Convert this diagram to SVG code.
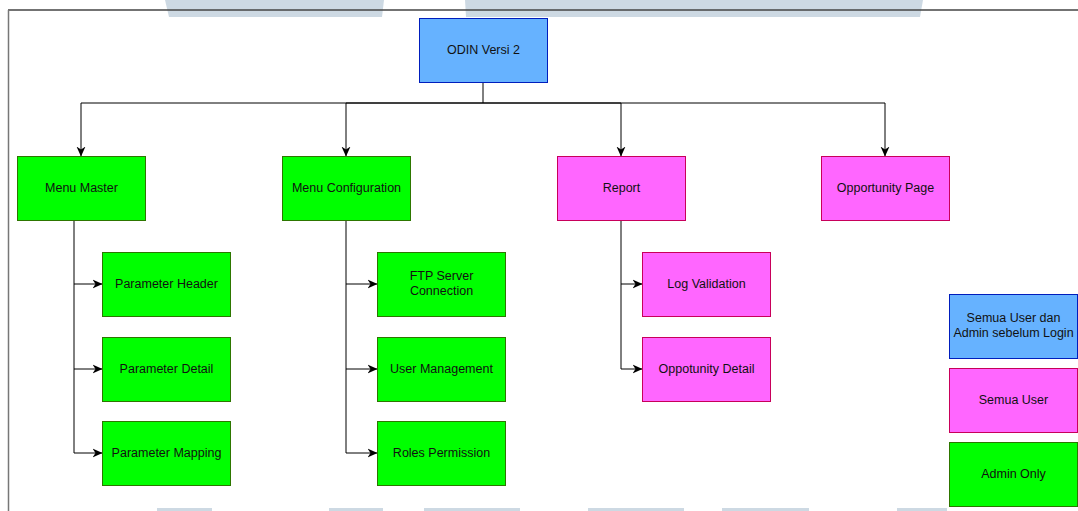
<svg xmlns="http://www.w3.org/2000/svg" width="1078" height="511" viewBox="0 0 1078 511">
<defs>
<style>
.t{font-family:"Liberation Sans",Arial,sans-serif;font-size:12.5px;fill:#111;text-anchor:middle;dominant-baseline:central}
.g{fill:#00ff00;stroke:#2d7600;stroke-width:1}
.p{fill:#ff66ff;stroke:#c8005a;stroke-width:1}
.b{fill:#66b2ff;stroke:#001dbc;stroke-width:1}
.c{fill:none;stroke:#000;stroke-width:1;marker-end:url(#ah)}
.wm{fill:#cdd9e3}
</style>
<marker id="ah" viewBox="0 0 10 10" refX="9.5" refY="5" markerWidth="10" markerHeight="10" markerUnits="userSpaceOnUse" orient="auto">
<path d="M0,0.5 L10,5 L0,9.5 L3,5 Z" fill="#000"/>
</marker>
</defs>
<rect width="1078" height="511" fill="#fff"/>
<g id="watermark">
<polygon class="wm" points="165,0 384,0 382,17 169,17"/>
<polygon class="wm" points="465,0 923,0 920,17 466,17"/>
<rect class="wm" x="157" y="508" width="55" height="3"/>
<rect class="wm" x="329" y="508" width="54" height="3"/>
<rect class="wm" x="424" y="508" width="96" height="3"/>
<rect class="wm" x="588" y="508" width="96" height="3"/>
<rect class="wm" x="722" y="508" width="87" height="3"/>
<rect class="wm" x="897" y="508" width="50" height="3"/>
</g>
<g id="frame">
<line x1="8" y1="10" x2="1078" y2="10" stroke="#444" stroke-width="1.5"/>
<line x1="8.5" y1="10" x2="8.5" y2="511" stroke="#777" stroke-width="1.5"/>
</g>
<g id="connectors">
<path d="M483,82 V103 H81 V156" class="c"/>
<path d="M483,103 H346 V156" class="c"/>
<path d="M483,103 H621 V156" class="c"/>
<path d="M483,103 H885 V156" class="c"/>
<path d="M74,220 V284 H102" class="c"/>
<path d="M74,284 V369 H102" class="c"/>
<path d="M74,369 V453 H102" class="c"/>
<path d="M346,220 V284 H377" class="c"/>
<path d="M346,284 V369 H377" class="c"/>
<path d="M346,369 V453 H377" class="c"/>
<path d="M621,220 V284 H642" class="c"/>
<path d="M621,284 V369 H642" class="c"/>
</g>
<g id="odin"><rect class="b" x="419.5" y="18.5" width="128" height="64"/><text class="t" x="483.5" y="49.5">ODIN Versi 2</text></g>
<g id="menu-master"><rect class="g" x="17.5" y="156.5" width="128" height="64"/><text class="t" x="81.5" y="187.5">Menu Master</text></g>
<g id="menu-configuration"><rect class="g" x="282.5" y="156.5" width="128" height="64"/><text class="t" x="346.5" y="187.5">Menu Configuration</text></g>
<g id="report"><rect class="p" x="557.5" y="156.5" width="128" height="64"/><text class="t" x="621.5" y="187.5">Report</text></g>
<g id="opportunity-page"><rect class="p" x="821.5" y="156.5" width="128" height="64"/><text class="t" x="885.5" y="187.5">Opportunity Page</text></g>
<g id="parameter-header"><rect class="g" x="102.5" y="252.5" width="128" height="64"/><text class="t" x="166.5" y="283.5">Parameter Header</text></g>
<g id="parameter-detail"><rect class="g" x="102.5" y="337.5" width="128" height="64"/><text class="t" x="166.5" y="368.5">Parameter Detail</text></g>
<g id="parameter-mapping"><rect class="g" x="102.5" y="421.5" width="128" height="64"/><text class="t" x="166.5" y="452.5">Parameter Mapping</text></g>
<g id="ftp-server"><rect class="g" x="377.5" y="252.5" width="128" height="64"/><text class="t" x="441.5" y="276">FTP Server</text><text class="t" x="441.5" y="291">Connection</text></g>
<g id="user-management"><rect class="g" x="377.5" y="337.5" width="128" height="64"/><text class="t" x="441.5" y="368.5">User Management</text></g>
<g id="roles-permission"><rect class="g" x="377.5" y="421.5" width="128" height="64"/><text class="t" x="441.5" y="452.5">Roles Permission</text></g>
<g id="log-validation"><rect class="p" x="642.5" y="252.5" width="128" height="64"/><text class="t" x="706.5" y="283.5">Log Validation</text></g>
<g id="oppotunity-detail"><rect class="p" x="642.5" y="337.5" width="128" height="64"/><text class="t" x="706.5" y="368.5">Oppotunity Detail</text></g>
<g id="legend-blue"><rect class="b" x="949.5" y="294.5" width="128" height="64"/><text class="t" x="1013.5" y="318">Semua User dan</text><text class="t" x="1013.5" y="333">Admin sebelum Login</text></g>
<g id="legend-pink"><rect class="p" x="949.5" y="368.5" width="128" height="64"/><text class="t" x="1013.5" y="399.5">Semua User</text></g>
<g id="legend-green"><rect class="g" x="949.5" y="442.5" width="128" height="64"/><text class="t" x="1013.5" y="473.5">Admin Only</text></g>
</svg>
